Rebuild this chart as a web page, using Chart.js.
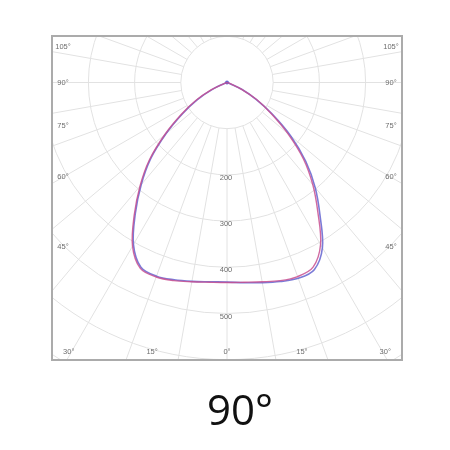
<!DOCTYPE html>
<html>
<head>
<meta charset="utf-8">
<script src="https://cdn.jsdelivr.net/npm/chart.js@4.4.1/dist/chart.umd.min.js"></script>
<style>
body{margin:0;background:#fff;}
#wrap{position:relative;width:450px;height:450px;}
#caption{position:absolute;left:207px;top:380px;font-family:"Open Sans",sans-serif;font-size:42px;color:#111;white-space:nowrap;}
</style>
</head>
<body>
<div id="wrap">
<canvas id="myChart" width="450" height="450"></canvas>
<div id="caption">90°</div>
</div>
<script>
/* angulos en grados, 0 = hacia abajo, negativos a la izquierda */
var angles = [-75,-70,-65,-60,-55,-50,-45,-40,-35,-30,-25,-20,-15,-10,-5,0,5,10,15,20,25,30,35,40,45,50,55,60,65,70,75];
/* intensidad plano C0-C180 */
var c0 = [0,7,38,78,121,176,238,293,350,409,444,448,444,438,434,433,434,438,444,447,441,405,343,289,234,172,116,74,35,6,0];
/* intensidad plano C90-C270 */
var c90 = [0,5,34,74,117,172,234,289,346,405,441,446,442,437,433,432,435,440,446,451,447,413,351,297,241,180,120,72,36,6,0];

var rings = [100,200,300,400,500,600,700,800];
var ringLabels = ['200','300','400','500'];
var spokes = [0,10,20,30,40,50,60,70,80,90,100,110,120,130,140,150,160,170,180,190,200,210,220,230,240,250,260,270,280,290,300,310,320,330,340,350];
var sideLabels = [105,90,75,60,45];
var bottomLabels = [-30,-15,0,15,30];

function toXY(vals){
    var pts = [];
    for (var i in angles){
        var a = angles[i]*Math.PI/180;
        pts.push({x: vals[i]*Math.sin(a), y: -vals[i]*Math.cos(a)});
    }
    return pts;
}

var gridPlugin = {
    id: 'polarGrid',
    beforeDatasetsDraw: function(chart){
        var ctx = chart.ctx;
        var area = chart.chartArea;
        var xs = chart.scales.x, ys = chart.scales.y;
        var cx = xs.getPixelForValue(0), cy = ys.getPixelForValue(0);
        var k = (xs.getPixelForValue(100) - cx)/100;
        ctx.save();
        ctx.beginPath();
        ctx.rect(area.left, area.top, area.right-area.left, area.bottom-area.top);
        ctx.clip();
        ctx.strokeStyle = '#e2e2e2';
        ctx.lineWidth = 1;
        for (var i in rings){
            ctx.beginPath();
            ctx.arc(cx, cy, rings[i]*k, 0, Math.PI*2);
            ctx.stroke();
        }
        for (var j in spokes){
            var a = spokes[j]*Math.PI/180;
            ctx.beginPath();
            ctx.moveTo(cx + Math.sin(a)*rings[0]*k, cy + Math.cos(a)*rings[0]*k);
            ctx.lineTo(cx + Math.sin(a)*2000*k, cy + Math.cos(a)*2000*k);
            ctx.stroke();
        }
        ctx.restore();

        // textos
        ctx.save();
        ctx.fillStyle = '#6e6e6e';
        ctx.font = '7.5px "Liberation Sans", Arial, sans-serif';
        ctx.textBaseline = 'middle';
        ctx.textAlign = 'center';
        for (var r in ringLabels){
            var v = parseFloat(ringLabels[r]);
            ctx.fillText(ringLabels[r], cx - 1, cy + v*k + 3);
        }
        var lx = area.left + 11, rx = area.right - 11;
        for (var s in sideLabels){
            var t = Math.tan((90 - sideLabels[s])*Math.PI/180);
            var yl = Math.max(area.top + 11, cy + (cx - lx)*t);
            var yr = Math.max(area.top + 11, cy + (rx - cx)*t);
            ctx.fillText(sideLabels[s] + '°', lx, yl);
            ctx.fillText(sideLabels[s] + '°', rx, yr);
        }
        var by = area.bottom - 8;
        for (var b in bottomLabels){
            var d = bottomLabels[b];
            var bx = cx + (by - cy)*Math.tan(d*Math.PI/180);
            ctx.textAlign = d < 0 ? 'right' : (d > 0 ? 'left' : 'center');
            bx = Math.max(area.left + 5, Math.min(area.right - 5, bx));
            if (d < 0) bx += 3; else if (d > 0) bx -= 3;
            ctx.fillText(Math.abs(d) + '°', bx, by);
        }
        ctx.restore();

        // marco
        ctx.save();
        ctx.strokeStyle = '#ababab';
        ctx.lineWidth = 2;
        ctx.strokeRect(area.left, area.top, area.right-area.left, area.bottom-area.top);
        ctx.restore();
    }
};

var ctx = document.getElementById('myChart');
var myChart = new Chart(ctx, {
    type: 'scatter',
    data: {
        datasets: [{
            label: 'C0-C180',
            data: toXY(c0),
            showLine: true,
            borderColor: 'rgba(200,80,145,0.85)',
            borderWidth: 1.4,
            pointRadius: 0,
            tension: 0.35,
            fill: false
        },{
            label: 'C90-C270',
            data: toXY(c90),
            showLine: true,
            borderColor: 'rgba(90,90,205,0.8)',
            backgroundColor: 'rgba(90,90,205,0.9)',
            borderWidth: 1.6,
            pointRadius: function(c){ return c.dataIndex === 0 ? 2 : 0; },
            pointBorderWidth: 0,
            tension: 0.35,
            fill: false
        }]
    },
    options: {
        responsive: false,
        animation: false,
        layout: {padding: {left: 52, top: 36, right: 48, bottom: 90}},
        plugins: {legend: {display: false}, tooltip: {enabled: false}},
        scales: {
            x: {type: 'linear', min: -378.8, max: 378.8, display: false},
            y: {type: 'linear', min: -600.6, max: 100.6, display: false}
        }
    },
    plugins: [gridPlugin]
});
</script>
</body>
</html>
